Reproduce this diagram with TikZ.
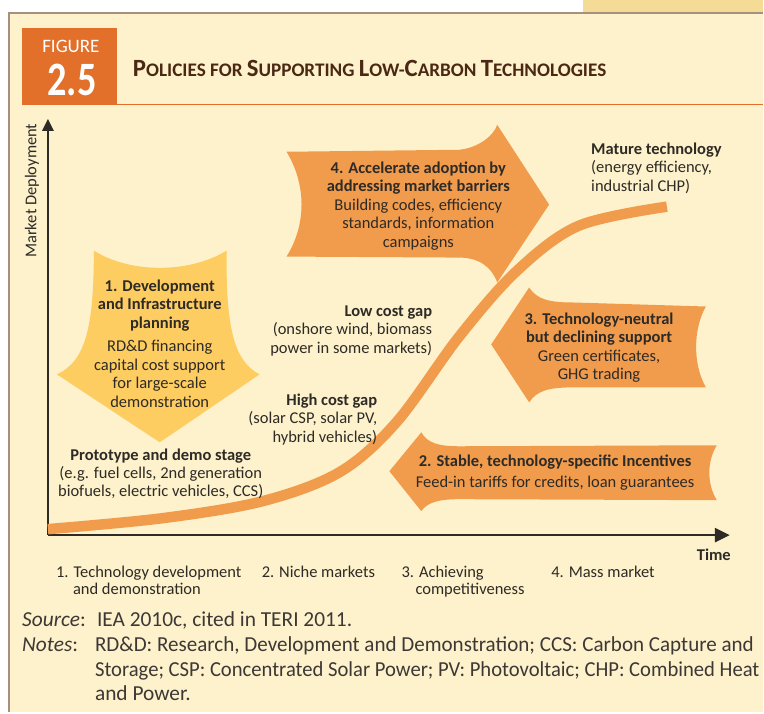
\documentclass[tikz,border=0pt]{standalone}
\usepackage{fontspec}
\usepackage{graphicx}
\setmainfont{Carlito}
\usetikzlibrary{arrows.meta}
\definecolor{panel}{HTML}{FDF2CB}
\definecolor{strip}{HTML}{F4DC96}
\definecolor{frame}{HTML}{A89080}
\definecolor{figor}{HTML}{E2702A}
\definecolor{arrowc}{HTML}{F19C4D}
\definecolor{yel}{HTML}{FDCD62}
\definecolor{ink}{HTML}{2E2A26}
\definecolor{titlec}{HTML}{4A2814}
\definecolor{notec}{HTML}{3D3836}
\newcommand\bodyfont{\fontsize{16.5}{18.5}\selectfont}
\newcommand\notefont{\fontsize{21.4}{24}\selectfont}
\newcommand\capA[2]{{\fontsize{24.8}{24.8}\selectfont #1}{\fontsize{19.2}{19.2}\selectfont #2}}
\begin{document}
\begin{tikzpicture}[x=1pt,y=-1pt,
  every node/.style={inner sep=0pt, text=ink, font=\bodyfont},
  axis/.style={draw=ink, line width=2.5pt},
  curve/.style={draw=arrowc, line width=10.5pt},
  bigarrow/.style={fill=arrowc},
  yelarrow/.style={fill=yel},
  note/.style={anchor=base west, font=\notefont, text=notec}]
% background
\fill[white] (0,0) rectangle (764,713);
\fill[strip] (584,0) rectangle (764,13);
\fill[panel] (9,13) rectangle (764,713);
\draw[frame, line width=2.5pt] (9,713) -- (9,13) -- (764,13);
\useasboundingbox (0,0) rectangle (764,713);
% header
\fill[figor] (22,28) rectangle (117,105);
\draw[figor, line width=1.2pt] (117,105) -- (764,105);
\node[text=white, anchor=base, font=\fontsize{19}{19}\selectfont] (figword) at (71,53) {FIGURE};
\node[text=white, anchor=base, font=\fontsize{48}{48}\selectfont\bfseries] (fignum) at (72,96) {\scalebox{0.8}[1]{2.5}};
\node[anchor=base west, text=titlec, font={\fontsize{19.2}{19.2}\selectfont\bfseries}] (title) at (133,77)
  {\capA{P}{OLICIES FOR} \capA{S}{UPPORTING} \capA{L}{OW-}\capA{C}{ARBON} \capA{T}{ECHNOLOGIES}};
% axes
\coordinate (O) at (48,536);
\coordinate (ytip) at (48,119);
\coordinate (xtip) at (731,536);
\draw[axis, -{Triangle[length=12pt,width=11pt]}] (O) -- (ytip);
\draw[axis, -{Triangle[length=15pt,width=14pt]}] (O) -- (xtip);
\node[rotate=90] (ylab) at (32,191) {Market Deployment};
\node[anchor=base, font=\bodyfont\bfseries] (xlab) at (715,561) {Time};
% S-curve
\draw[curve] plot[smooth, tension=0.55] coordinates {(48,530) (163,519) (263,502) (340,473) (397,423) (460,337) (518,271) (580,226) (668,207)};
% arrow 1 (yellow, down)
\fill[yelarrow] (94,251) .. controls (130,274) and (190,274) .. (227,251)
  .. controls (226,330) and (235,362) .. (260,375)
  -- (160,443) -- (57,375)
  .. controls (85,362) and (94,330) .. (94,251) -- cycle;
% arrow 4 (right)
\fill[bigarrow] (287,152) -- (460,150) .. controls (480,148) and (495,135) .. (498,125)
  -- (550,205) -- (498,283)
  .. controls (493,268) and (480,258) .. (460,258) -- (287,257)
  .. controls (307,225) and (307,185) .. (287,152) -- cycle;
% arrow 3 (left)
\fill[bigarrow] (492,345) -- (530,288) .. controls (538,300) and (550,303) .. (575,303) -- (707,307)
  .. controls (694,330) and (694,365) .. (707,388)
  -- (575,388) .. controls (550,388) and (538,391) .. (530,403) -- cycle;
% arrow 2 (left)
\fill[bigarrow] (390,472) -- (422,433) .. controls (428,444) and (440,447) .. (460,447) -- (718,446)
  .. controls (708,462) and (708,485) .. (718,501)
  -- (460,500) .. controls (440,500) and (428,503) .. (422,512) -- cycle;
% arrow texts
\node[anchor=north, align=center] (a1txt) at (160,280) {\textbf{1. Development}\\\textbf{and Infrastructure}\\\textbf{planning}\\[5pt]RD\&D financing\\capital cost support\\for large-scale\\demonstration};
\node[anchor=north, align=center] (a4txt) at (419,162) {\textbf{4. Accelerate adoption by}\\\textbf{addressing market barriers}\\Building codes, efficiency\\standards, information\\campaigns};
\node[anchor=north, align=center] (a3txt) at (600,313) {\textbf{3. Technology-neutral}\\\textbf{but declining support}\\Green certificates,\\GHG trading};
\node[anchor=north, align=center] (a2txt) at (556,455) {\textbf{2. Stable, technology-specific Incentives}\\[3pt]Feed-in tariffs for credits, loan guarantees};
% curve labels
\node[anchor=north west, align=left] (mature) at (592,143) {\textbf{Mature technology}\\(energy efficiency,\\industrial CHP)};
\node[anchor=north east, align=right] (lowgap) at (433,306) {\textbf{Low cost gap}\\(onshore wind, biomass\\power in some markets)};
\node[anchor=north east, align=right] (highgap) at (378,394) {\textbf{High cost gap}\\(solar CSP, solar PV,\\hybrid vehicles)};
\node[anchor=north, align=center] (proto) at (161,449) {\textbf{Prototype and demo stage}\\(e.g. fuel cells, 2nd generation\\biofuels, electric vehicles, CCS)};
% x-axis stage labels
\node[anchor=base west] (st1) at (56,578) {1. Technology development};
\node[anchor=base west] (st1b) at (73,595) {and demonstration};
\node[anchor=base west] (st2) at (262,578) {2. Niche markets};
\node[anchor=base west] (st3) at (402,578) {3. Achieving};
\node[anchor=base west] (st3b) at (416,595) {competitiveness};
\node[anchor=base west] (st4) at (552,578) {4. Mass market};
% notes
\node[note] (srck) at (22,628) {\textit{Source}:};
\node[note] (srcv) at (97,628) {IEA 2010c, cited in TERI 2011.};
\node[note] (notek) at (22,653) {\textit{Notes}:};
\node[note] (n1) at (95,653) {\scalebox{0.985}[1]{RD\&D: Research, Development and Demonstration; CCS: Carbon Capture and}};
\node[note] (n2) at (95,678) {\scalebox{0.965}[1]{Storage; CSP: Concentrated Solar Power; PV: Photovoltaic; CHP: Combined Heat}};
\node[note] (n3) at (95,702) {and Power.};
\end{tikzpicture}
\end{document}
